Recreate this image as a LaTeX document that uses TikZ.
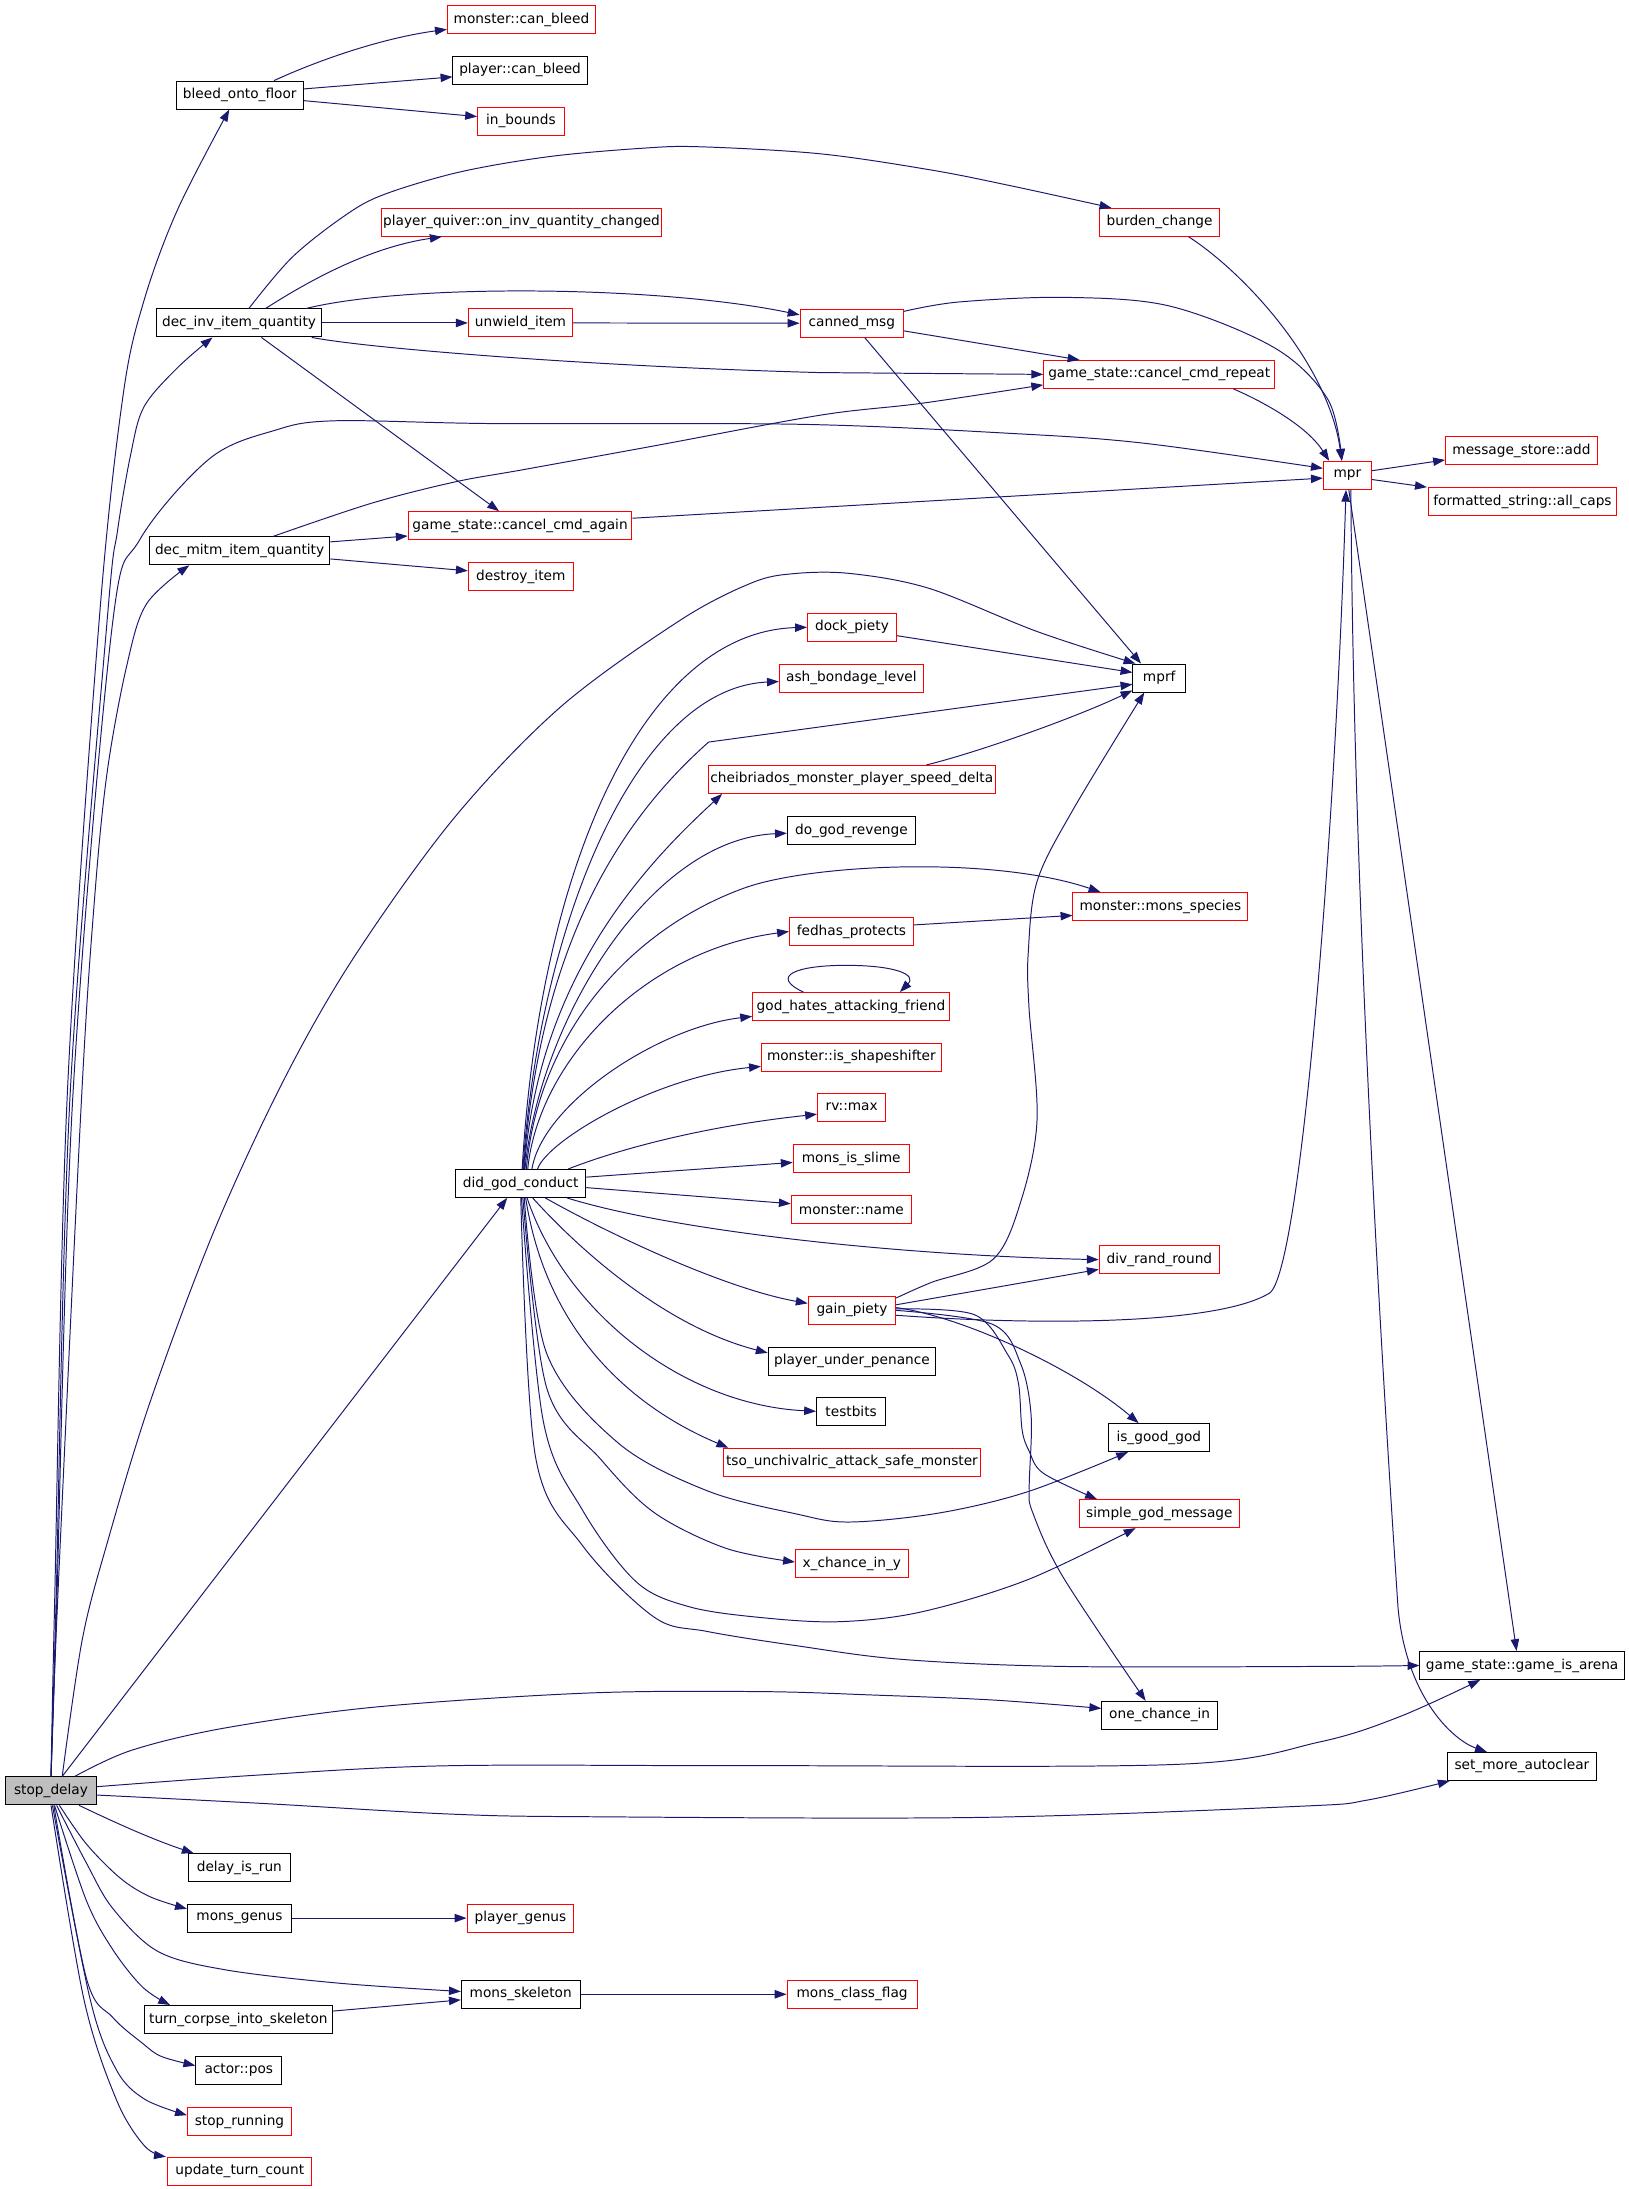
\documentclass[tikz,border=0pt]{standalone}
\usepackage{fontspec}
\newfontfamily\fnt{DejaVu Sans}
\usetikzlibrary{arrows.meta}
\definecolor{edgec}{HTML}{191970}
\begin{document}
\begin{tikzpicture}[x=1pt,y=-1pt,
  fn/.style={draw=black, line width=0.7pt, rectangle, minimum height=20pt, inner xsep=1pt, inner ysep=0pt, font=\fnt\fontsize{9.8}{11}\selectfont, text=black},
  rfn/.style={fn, draw=red},
  e/.style={draw=edgec, line width=0.7pt, -{Triangle[length=8.5pt,width=6pt]}},
  sm/.style={smooth, tension=0.55}]
\fill[white] (0,0) rectangle (1165.2,1565.8);
\useasboundingbox (0,0) rectangle (1165.2,1565.8);

% column 1-2
\node[fn,fill=black!25,minimum width=65pt] (stopdelay) at (36.5,1281) {stop\_delay};
\node[fn,minimum width=91pt] (bleed) at (171.5,68) {bleed\_onto\_floor};
\node[fn,minimum width=117.5pt] (decinv) at (171,231) {dec\_inv\_item\_quantity};
\node[fn,minimum width=129pt] (decmitm) at (171.4,394) {dec\_mitm\_item\_quantity};
\node[fn,minimum width=93pt] (didgod) at (372.5,846.5) {did\_god\_conduct};
\node[fn,minimum width=72.5pt] (delayrun) at (171.2,1336) {delay\_is\_run};
\node[fn,minimum width=74.5pt] (monsgenus) at (171.3,1372) {mons\_genus};
\node[fn,minimum width=135pt] (turncorpse) at (170.5,1444.5) {turn\_corpse\_into\_skeleton};
\node[fn,minimum width=61.5pt] (actorpos) at (170.8,1481) {actor::pos};
\node[rfn,minimum width=74.5pt] (stoprunning) at (171.3,1517.5) {stop\_running};
\node[rfn,minimum width=103pt] (updateturn) at (171.5,1553) {update\_turn\_count};

% column 3
\node[rfn,minimum width=106pt] (moncanbleed) at (373,14) {monster::can\_bleed};
\node[fn,minimum width=96pt] (playercanbleed) at (372,50.3) {player::can\_bleed};
\node[rfn,minimum width=62pt] (inbounds) at (372.6,86.6) {in\_bounds};
\node[rfn,minimum width=198pt] (pquiver) at (373,159) {player\_quiver::on\_inv\_quantity\_changed};
\node[rfn,minimum width=74.6pt] (unwield) at (372.3,231) {unwield\_item};
\node[rfn,minimum width=160pt] (cancelagain) at (372,376) {game\_state::cancel\_cmd\_again};
\node[rfn,minimum width=75pt] (destroy) at (372.5,412.7) {destroy\_item};
\node[fn,minimum width=85pt] (monsskeleton) at (372.5,1426.5) {mons\_skeleton};
\node[rfn,minimum width=76.5pt] (playergenus) at (372.3,1372) {player\_genus};

% column 4
\node[rfn,minimum width=74pt] (cannedmsg) at (609.3,231.2) {canned\_msg};
\node[rfn,minimum width=63.6pt] (dockpiety) at (609.4,448.7) {dock\_piety};
\node[rfn,minimum width=103pt] (ashbondage) at (609,485.2) {ash\_bondage\_level};
\node[rfn,minimum width=205.5pt] (cheib) at (609.3,557.5) {cheibriados\_monster\_player\_speed\_delta};
\node[fn,minimum width=91.5pt] (dogod) at (609,594) {do\_god\_revenge};
\node[rfn,minimum width=88.6pt] (fedhas) at (609,666.3) {fedhas\_protects};
\node[rfn,minimum width=140.7pt] (godhates) at (608.7,720) {god\_hates\_attacking\_friend};
\node[rfn,minimum width=128.7pt] (shapeshifter) at (609,756.3) {monster::is\_shapeshifter};
\node[rfn,minimum width=48.8pt] (rvmax) at (609.2,792) {rv::max};
\node[rfn,minimum width=83pt] (monsslime) at (608.9,828.7) {mons\_is\_slime};
\node[rfn,minimum width=86pt] (monstername) at (609,865) {monster::name};
\node[rfn,minimum width=62.6pt] (gainpiety) at (609.4,937.3) {gain\_piety};
\node[fn,minimum width=119.8pt] (penance) at (609.4,973.7) {player\_under\_penance};
\node[fn,minimum width=49.5pt] (testbits) at (608.8,1009.5) {testbits};
\node[rfn,minimum width=184.2pt] (tso) at (609.4,1045.9) {tso\_unchivalric\_attack\_safe\_monster};
\node[rfn,minimum width=80.6pt] (xchance) at (609.3,1118.3) {x\_chance\_in\_y};
\node[rfn,minimum width=93pt] (monsclassflag) at (609.5,1426.5) {mons\_class\_flag};

% column 5
\node[rfn,minimum width=85.5pt] (burden) at (829.5,159) {burden\_change};
\node[rfn,minimum width=165.3pt] (cancelrepeat) at (829.2,267.8) {game\_state::cancel\_cmd\_repeat};
\node[fn,minimum width=37.6pt] (mprf) at (829.2,485) {mprf};
\node[rfn,minimum width=125pt] (monsspecies) at (830,648.4) {monster::mons\_species};
\node[rfn,minimum width=86pt] (divrand) at (829.3,901) {div\_rand\_round};
\node[fn,minimum width=72.3pt] (isgoodgod) at (828.9,1028.3) {is\_good\_god};
\node[rfn,minimum width=114.5pt] (simplegod) at (829.3,1082.7) {simple\_god\_message};
\node[fn,minimum width=82.8pt] (onechance) at (829.5,1227) {one\_chance\_in};

% column 6-7
\node[rfn,minimum width=34.4pt] (mpr) at (963.8,340) {mpr};
\node[fn,minimum width=146.2pt] (arena) at (1088.8,1191.3) {game\_state::game\_is\_arena};
\node[fn,minimum width=106.5pt] (autoclear) at (1088.6,1263.5) {set\_more\_autoclear};
\node[rfn,minimum width=108.6pt] (msgadd) at (1088.3,322.4) {message\_store::add};
\node[rfn,minimum width=134pt] (allcaps) at (1089,358.8) {formatted\_string::all\_caps};

% ---- edges from stop_delay
\draw[e] plot[sm] coordinates {(stopdelay.north) (39,1150) (48,786) (71,443) (88,283) (103,215) (127,150) ([xshift=-7.5pt]bleed.south)};
\draw[e] plot[sm] coordinates {(stopdelay.north) (40,1150) (50,786) (76.7,443) (84,380) (93.5,325) (103,291) (127,263) ([xshift=-19pt]decinv.south)};
\draw[e] plot[sm] coordinates {(stopdelay.north) (41,1150) (58.3,786) (67.7,642) (76.7,552) (90.7,476) (104.8,432) ([xshift=-36pt]decmitm.south)};
\draw[e] plot[sm] coordinates {(stopdelay.north) (40.5,1150) (52,786) (80,450) (100,386) (150,328) (196,308) (239,301) (355,303) (572,303.5) (723,310) (818,317) ([yshift=5pt]mpr.west)};
\draw[e] plot[sm] coordinates {([xshift=8pt]stopdelay.north) (58.8,1173) (76.6,1104) (107.3,1003) (153.3,880) (203,772.5) (253,685) (324.5,585.5) (400.6,506) (486,444) (537.5,417) (568,410.3) (609,410.3) (665,421) (741.5,451.6) ([xshift=-17pt]mprf.north)};
\draw[e] ([xshift=8pt]stopdelay.north) -- ([xshift=-9.7pt]didgod.south);
\draw[e] plot[sm] coordinates {([xshift=17pt]stopdelay.north) (94,1252) (161,1236) (269,1221) (421,1211) (544,1210) (626,1212.5) (710,1216) ([yshift=5pt]onechance.west)};
\draw[e] plot[sm] coordinates {([yshift=3pt]stopdelay.east) (188,1269.5) (322,1263) (544,1263) (843,1262) (944,1246) (1001,1228) ([xshift=-30pt]arena.south)};
\draw[e] plot[sm] coordinates {([yshift=-3pt]stopdelay.east) (188,1290) (322,1297.6) (421,1299.5) (700,1300) (930,1292) (978,1287.6) ([xshift=2pt]autoclear.south west)};
\draw[e] ([xshift=20pt]stopdelay.south) .. controls (85,1305) and (110,1316) .. ([xshift=4pt]delayrun.north west);
\draw[e] plot[sm] coordinates {([xshift=6pt]stopdelay.south) (61.8,1319) (86,1343.4) (107.5,1356.8) ([yshift=6.6pt]monsgenus.west)};
\draw[e] plot[sm] coordinates {([xshift=4pt]stopdelay.south) (61.8,1332.6) (80.6,1365) (112.9,1395.8) (161.2,1409) (241.8,1418.5) ([yshift=2pt]monsskeleton.west)};
\draw[e] plot[sm] coordinates {([xshift=2.5pt]stopdelay.south) (61.8,1359.5) (80.6,1394.4) (102,1421.4) ([xshift=19pt]turncorpse.north west)};
\draw[e] plot[sm] coordinates {([xshift=2pt]stopdelay.south) (61.8,1415) (80.6,1443) (102,1461.6) (115.5,1471) ([yshift=3.5pt]actorpos.west)};
\draw[e] plot[sm] coordinates {([xshift=1pt]stopdelay.south) (64.4,1429.7) (83.3,1480.6) (103.4,1501.5) ([yshift=4.5pt]stoprunning.west)};
\draw[e] plot[sm] coordinates {(stopdelay.south) (60,1430) (83.3,1502) (103.4,1535) ([xshift=-1pt]updateturn.north west)};

% ---- bleed
\draw[e] ([xshift=24.5pt]bleed.north) .. controls (230,42) and (275,27) .. ([yshift=-7pt]moncanbleed.west);
\draw[e] ([yshift=4.4pt]bleed.east) -- ([yshift=-4.7pt]playercanbleed.west);
\draw[e] ([yshift=-4pt]bleed.east) -- ([yshift=3.2pt]inbounds.west);

% ---- dec_inv_item_quantity
\draw[e] plot[sm] coordinates {([xshift=7pt]decinv.north) (209,184) (247,154) (275,139) (329,123) (393,112) (460,106) (501,105) (586.6,110) (666,121.6) (723.6,133) ([xshift=-34.5pt]burden.north)};
\draw[e] ([xshift=19pt]decinv.north) .. controls (230,195) and (270,176) .. ([xshift=-57pt]pquiver.south);
\draw[e] ([xshift=48pt]decinv.north) .. controls (290,203) and (470,204) .. ([yshift=6pt]cannedmsg.west);
\draw[e] (decinv.east) -- (unwield.west);
\draw[e] (unwield.east) -- (cannedmsg.west);
\draw[e] ([xshift=52pt]decinv.south) .. controls (262,249) and (420,262) .. (586,266.5) -- (cancelrepeat.west);
\draw[e] ([xshift=16pt]decinv.south) -- ([xshift=-15pt]cancelagain.north);

% ---- dec_mitm_item_quantity
\draw[e] plot[sm] coordinates {([xshift=24pt]decmitm.north) (265.6,360) (325.5,344.7) (374,336) (467.6,319) (586.6,297) (659,288.5) ([yshift=-7.5pt]cancelrepeat.west)};
\draw[e] ([yshift=6.4pt]decmitm.east) -- ([yshift=-7.4pt]cancelagain.west);
\draw[e] ([yshift=-5.8pt]decmitm.east) -- ([yshift=4.4pt]destroy.west);
\draw[e] ([yshift=5.3pt]cancelagain.east) -- ([yshift=-2pt]mpr.west);

% ---- canned_msg, burden, repeat
\draw[e] plot[sm] coordinates {([yshift=8.5pt]cannedmsg.east) (686,216) (762,212.7) (837,219) (912,249) (950,286) ([xshift=-4pt]mpr.north)};
\draw[e] ([yshift=-5.5pt]cannedmsg.east) -- ([xshift=-57pt]cancelrepeat.north);
\draw[e] ([xshift=9.3pt]cannedmsg.south) -- ([xshift=-13pt]mprf.north);
\draw[e] ([xshift=20.7pt]burden.south) .. controls (890,195) and (950,260) .. ([xshift=-4pt]mpr.north);
\draw[e] ([xshift=53pt]cancelrepeat.south) .. controls (905,288) and (935,305) .. ([xshift=-13pt]mpr.north);

% ---- mpr
\draw[e] ([yshift=3.3pt]mpr.east) -- ([yshift=-6.6pt]msgadd.west);
\draw[e] ([yshift=-3pt]mpr.east) -- ([xshift=-1pt]allcaps.north west);
\draw[e] ([xshift=1pt]mpr.south) -- ([xshift=-4pt]arena.north);
\draw[e] ([xshift=2.5pt]mpr.south) .. controls (968,650) and (990,1000) .. (1000,1150) .. controls (1006,1215) and (1040,1245) .. ([xshift=-25pt]autoclear.north);

% ---- monsgenus, skeleton
\draw[e] (monsgenus.east) -- (playergenus.west);
\draw[e] ([yshift=6pt]turncorpse.east) -- ([yshift=-4pt]monsskeleton.west);
\draw[e] (monsskeleton.east) -- (monsclassflag.west);

% ---- did_god_conduct upper fan
\draw[e] ([xshift=1pt]didgod.north) .. controls (386,620) and (460,452) .. (dockpiety.west);
\draw[e] ([xshift=1.5pt]didgod.north) .. controls (386,660) and (455,492) .. ([yshift=-2.3pt]ashbondage.west);
\draw[e] ([xshift=2pt]didgod.north) .. controls (386,680) and (440,590) .. (506.9,530.8) -- ([yshift=-4.5pt]mprf.west);
\draw[e] ([xshift=2.5pt]didgod.north) .. controls (385,700) and (460,620) .. ([xshift=10.4pt]cheib.south west);
\draw[e] ([xshift=3pt]didgod.north) .. controls (386,730) and (465,600) .. ([yshift=-2pt]dogod.west);
\draw[e] ([xshift=4pt]didgod.north) .. controls (385,740) and (450,665) .. (532.4,635.2) .. controls (580,618) and (710,612) .. ([xshift=20pt]monsspecies.north west);
\draw[e] ([xshift=5pt]didgod.north) .. controls (385,760) and (460,680) .. (fedhas.west);
\draw[e] ([xshift=8pt]didgod.north) .. controls (388,790) and (470,735) .. ([yshift=-7pt]godhates.west);
\draw[e] ([xshift=12pt]didgod.north) .. controls (392,815) and (470,770) .. ([yshift=-6.5pt]shapeshifter.west);
\draw[e] ([xshift=34pt]didgod.north) .. controls (440,823) and (500,806) .. ([yshift=-5pt]rvmax.west);
\draw[e] ([yshift=4.5pt]didgod.east) -- ([yshift=-2.8pt]monsslime.west);
\draw[e] ([yshift=-3pt]didgod.east) -- ([yshift=4pt]monstername.west);

% ---- did_god_conduct lower fan
\draw[e] ([xshift=33pt]didgod.south) .. controls (480,880) and (640,898) .. (divrand.west);
\draw[e] ([xshift=17.5pt]didgod.south) .. controls (440,885) and (520,922) .. ([yshift=5pt]gainpiety.west);
\draw[e] ([xshift=8.5pt]didgod.south) .. controls (420,900) and (480,950) .. ([yshift=6pt]penance.west);
\draw[e] ([xshift=4.5pt]didgod.south) .. controls (405,940) and (490,1005) .. (testbits.west);
\draw[e] ([xshift=3.5pt]didgod.south) .. controls (392,960) and (460,1010) .. ([xshift=4pt]tso.north west);
\draw[e] plot[sm] coordinates {([xshift=2.5pt]didgod.south) (391,968) (442,1032) (506,1066.4) (570,1083) (607.5,1088.7) (671.4,1082.3) (735.2,1067) ([xshift=-22pt]isgoodgod.south)};
\draw[e] plot[sm] coordinates {([xshift=1.5pt]didgod.south) (391,992.6) (429.6,1043.7) (468,1082) (519,1107.4) ([yshift=1pt]xchance.west)};
\draw[e] plot[sm] coordinates {([xshift=0.5pt]didgod.south) (388.6,1016.5) (416.8,1080.4) (455,1131.4) (493,1149.3) (544,1157) (600,1160) (659,1153) (735,1130) ([xshift=-17pt]simplegod.south)};
\draw[e] plot[sm] coordinates {(didgod.south) (383,1041.8) (416.8,1105.7) (468,1156.8) (506,1167) (570,1177.2) (645.9,1187) (760.9,1192) (944,1192) (arena.west)};

% ---- other col-4 edges
\draw[e] ([yshift=-6pt]dockpiety.east) -- ([yshift=4pt]mprf.west);
\draw[e] ([xshift=53.4pt]cheib.north) .. controls (700,538) and (770,513) .. ([yshift=1.5pt]mprf.south west);
\draw[e] ([yshift=4.7pt]fedhas.east) -- ([yshift=-6.4pt]monsspecies.west);
\draw[e] ([xshift=-34pt]godhates.north) .. controls (550,698) and (570,690.5) .. (605,690.5) .. controls (640,690.5) and (656,697) .. ([xshift=35pt]godhates.north);

% ---- gain_piety
\draw[e] plot[sm] coordinates {([yshift=-1.5pt]gainpiety.north east) (666,917.4) (710.3,900.8) (730,860) (741.8,801) (736,720) (735.5,681.6) (741.8,630.5) (767.4,579.4) ([xshift=-10.7pt]mprf.south)};
\draw[e] ([yshift=4pt]gainpiety.east) -- ([yshift=-7pt]divrand.west);
\draw[e] ([yshift=-3.5pt]gainpiety.east) .. controls (740,948) and (870,948) .. (908,925) .. controls (930,911) and (955,600) .. ([xshift=-1pt]mpr.south);
\draw[e] ([yshift=2pt]gainpiety.east) .. controls (690,942) and (770,980) .. ([xshift=-14.4pt]isgoodgod.north);
\draw[e] plot[sm] coordinates {([yshift=1pt]gainpiety.east) (697,940.4) (721,969.2) (728.5,989.6) (731.1,1022.8) (736.2,1038.1) (746.4,1053.9) ([xshift=-44.6pt]simplegod.north)};
\draw[e] plot[sm] coordinates {(gainpiety.east) (709.6,947.1) (730,975.3) (737.6,1013.2) (736.2,1064.4) (738.8,1082.2) (760.5,1128.2) ([xshift=-10pt]onechance.north)};
\end{tikzpicture}
\end{document}
